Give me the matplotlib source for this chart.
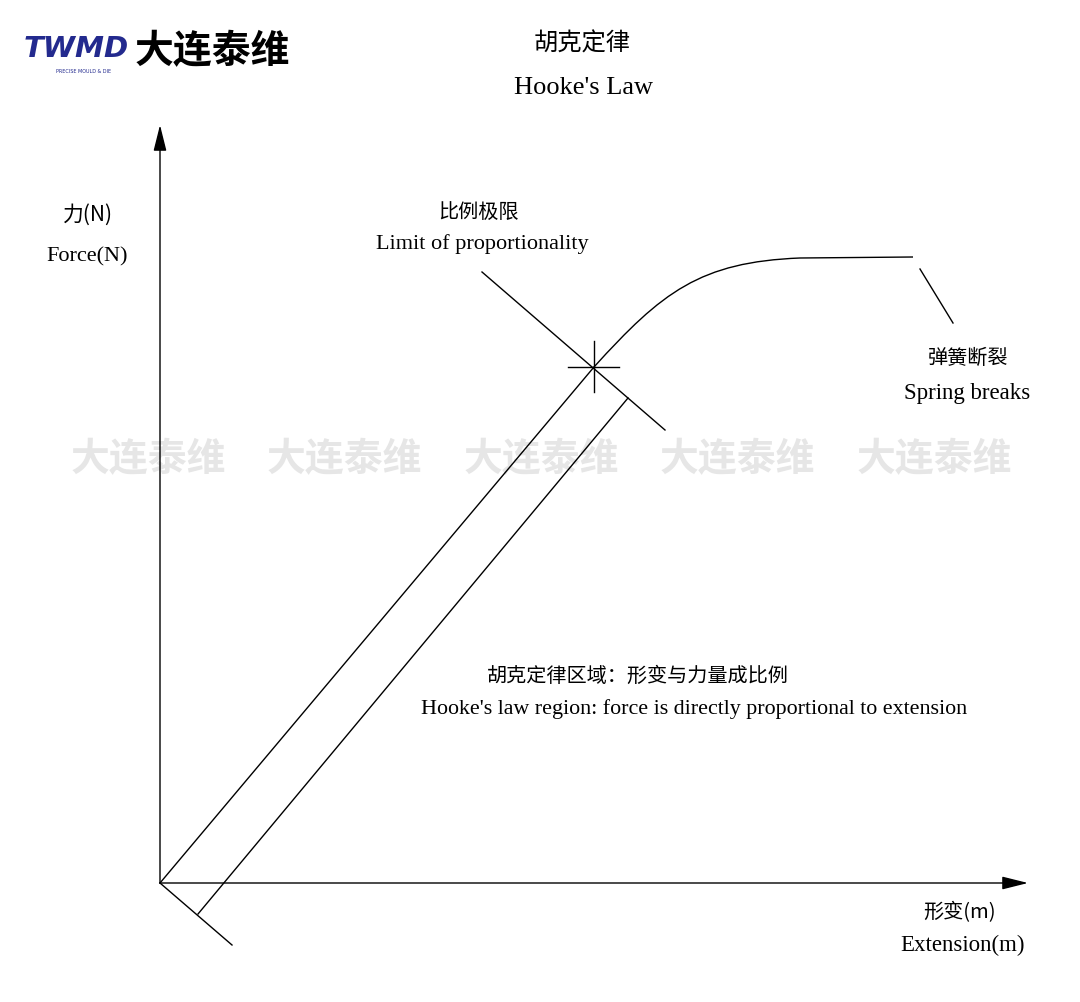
import matplotlib.pyplot as plt
from matplotlib.path import Path
from matplotlib.patches import PathPatch

plt.rcParams['font.family'] = ['Liberation Serif', 'Noto Sans CJK SC']
CJK = ['Noto Sans CJK SC', 'DejaVu Sans']

# diagram geometry (pixel space of the original drawing, y grows downward)
origin = (160, 883)
limit_pt = (594, 367)
hooke_x = [160, 594]
hooke_y = [883, 367]
offset_x = [198, 628]
offset_y = [914, 398]
dim_x = [160, 232]
dim_y = [883, 945]
limit_leader_x = [482, 665]
limit_leader_y = [272, 430]
# bezier control points of the curve beyond the limit, then the flat part
curve_ctrl = [(594, 367), (662, 292), (700, 262), (800, 258), (913, 257)]
break_x = [920, 953]
break_y = [269, 323]
x_axis_end = 1028
y_axis_end = 125

watermark_x = [148, 344, 541, 737, 934]
watermark_text = '大连泰维'

fig = plt.figure(figsize=(10.8, 10.02), dpi=100)
ax = fig.add_axes([0, 0, 1, 1])
ax.set_xlim(0, 1080)
ax.set_ylim(1002, 0)
ax.set_axis_off()

lw = 1.0
# watermark
for wx in watermark_x:
    ax.text(wx, 460, watermark_text, family=CJK, fontsize=28, fontweight='bold',
            color='#e6e6e6', ha='center', va='center', zorder=0)

# axes arrows
ax.annotate('', xy=(origin[0], y_axis_end), xytext=origin,
            arrowprops=dict(arrowstyle='-|>,head_length=1.6,head_width=0.4',
                            color='black', lw=lw, shrinkA=0, shrinkB=0))
ax.annotate('', xy=(x_axis_end, origin[1]), xytext=origin,
            arrowprops=dict(arrowstyle='-|>,head_length=1.6,head_width=0.4',
                            color='black', lw=lw, shrinkA=0, shrinkB=0))

# lines
ax.plot(hooke_x, hooke_y, color='black', lw=lw)
ax.plot(offset_x, offset_y, color='black', lw=lw)
ax.plot(dim_x, dim_y, color='black', lw=lw)
ax.plot(limit_leader_x, limit_leader_y, color='black', lw=lw)
curve = Path(curve_ctrl, [Path.MOVETO, Path.CURVE4, Path.CURVE4, Path.CURVE4, Path.LINETO])
ax.add_patch(PathPatch(curve, facecolor='none', edgecolor='black', lw=lw))
ax.plot(break_x, break_y, color='black', lw=lw)
# cross marker at limit of proportionality
ax.plot([limit_pt[0] - 26, limit_pt[0] + 25], [limit_pt[1]] * 2, color='black', lw=lw)
ax.plot([limit_pt[0]] * 2, [limit_pt[1] - 26, limit_pt[1] + 25], color='black', lw=lw)

# labels
def label(x, y, s, size, cjk=False, **kw):
    if cjk:
        ax.text(x, y, s, family=CJK, fontsize=size, ha='center', va='center', **kw)
    else:
        ax.text(x, y, s, fontsize=size, ha='center', va='center', **kw)

label(582, 44, '胡克定律', 17.5, cjk=True)
label(584, 88, "Hooke's Law", 19)
label(88, 215, '力(N)', 15, cjk=True)
label(87, 257, 'Force(N)', 16)
label(478, 212, '比例极限', 14.5, cjk=True)
label(482, 244, 'Limit of proportionality', 16)
label(968, 358, '弹簧断裂', 14.5, cjk=True)
label(967, 393, 'Spring breaks', 16.5)
label(638, 676, '胡克定律区域：形变与力量成比例', 14.5, cjk=True)
label(694, 709, "Hooke's law region: force is directly proportional to extension", 15.8)
label(960, 913, '形变(m)', 14.5, cjk=True)
label(963, 945, 'Extension(m)', 16.5)

# logo
ax.text(76, 49, 'TWMD', fontsize=21, fontweight='bold', style='italic',
        family='DejaVu Sans', color='#232a8e', ha='center', va='center')
ax.text(84, 71, 'PRECISE MOULD & DIE', fontsize=3.5, family='DejaVu Sans',
        color='#232a8e', ha='center', va='center')
ax.text(212, 52, '大连泰维', family=CJK, fontsize=28, fontweight='bold',
        color='black', ha='center', va='center')

fig.savefig('out.png', dpi=100)
